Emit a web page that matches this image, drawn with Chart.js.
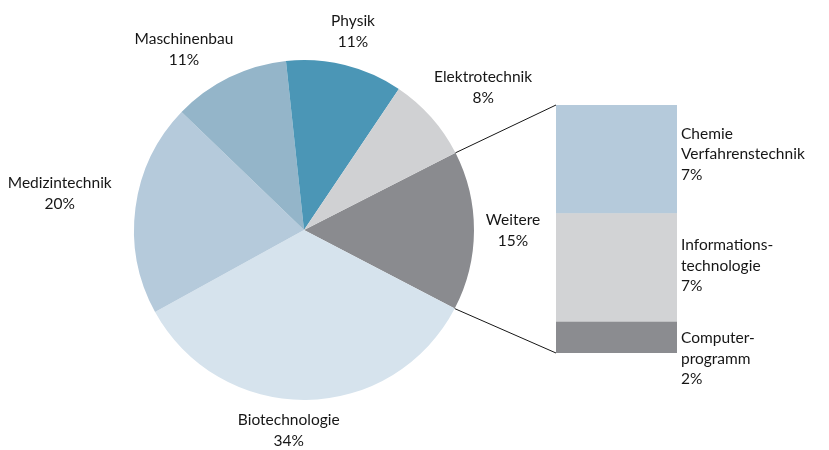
<!DOCTYPE html>
<html>
<head>
<meta charset="utf-8">
<script src="https://cdn.jsdelivr.net/npm/chart.js@4.4.0/dist/chart.umd.min.js"></script>
<style>
  body { margin: 0; background: #fff; }
  .wrap { position: relative; width: 829px; height: 450px; }
  .wrap canvas { position: absolute; left: 0; top: 0; }
</style>
</head>
<body>
<div class="wrap">
  <canvas id="pie" width="829" height="450"></canvas>
  <canvas id="bar" width="829" height="450"></canvas>
</div>
<script>
// Fachgebiete (Kreis)
const fields = ['Weitere', 'Biotechnologie', 'Medizintechnik', 'Maschinenbau', 'Physik', 'Elektrotechnik'];
const fieldShares = [15, 34, 20, 11, 11, 8];
const fieldColors = ['#8a8b8f', '#d6e3ed', '#b5cadb', '#94b5c9', '#4b96b6', '#d0d1d3'];

// Aufteilung von "Weitere" (Balken, von unten nach oben)
const otherFields = [['Computer-', 'programm'], ['Informations-', 'technologie'], ['Chemie', 'Verfahrenstechnik']];
const otherShares = [2, 7, 7];
const otherColors = ['#8b8c90', '#d2d3d5', '#b5cadb'];

const FONT = '15.5px Lato, "Open Sans", sans-serif';
const INK = '#161616';

function drawLines(ctx, lines, x, y, align, lh) {
  ctx.save();
  ctx.font = FONT;
  ctx.fillStyle = INK;
  ctx.textAlign = align;
  ctx.textBaseline = 'middle';
  const top = y - (lines.length - 1) * lh / 2;
  lines.forEach((t, i) => ctx.fillText(t, x, top + i * lh));
  ctx.restore();
}

// label position per slice: angle shift (deg) from the slice middle, distance from centre
const pieLabelPos = [[0, 209], [5, 201], [1, 247], [-7.5, 217], [0, 204], [3, 229]];

const pieLabels = {
  id: 'pieLabels',
  afterDatasetsDraw(chart) {
    const ctx = chart.ctx;
    chart.getDatasetMeta(0).data.forEach((arc, i) => {
      const mid = (arc.startAngle + arc.endAngle) / 2 + pieLabelPos[i][0] * Math.PI / 180;
      const d = pieLabelPos[i][1];
      const x = arc.x + Math.cos(mid) * d;
      const y = arc.y + Math.sin(mid) * d;
      drawLines(ctx, [fields[i], fieldShares[i] + '%'], x, y, 'center', 21);
    });
  }
};

const pieChart = new Chart(document.getElementById('pie'), {
  type: 'pie',
  data: {
    labels: fields,
    datasets: [{ data: fieldShares, backgroundColor: fieldColors, borderWidth: 0 }]
  },
  options: {
    responsive: false,
    devicePixelRatio: 1,
    animation: false,
    rotation: 63,
    layout: { padding: { left: 134, right: 355, top: 60, bottom: 50 } },
    plugins: { legend: { display: false }, tooltip: { enabled: false } }
  },
  plugins: [pieLabels]
});

// vertical nudge of the bar labels relative to the segment middle
const barLabelShift = [21, -2, -5];

const barExtras = {
  id: 'barExtras',
  afterDatasetsDraw(chart) {
    const ctx = chart.ctx;
    // connector lines from the "Weitere" slice to the bar
    const arc = pieChart.getDatasetMeta(0).data[0];
    const area = chart.chartArea;
    const r = arc.outerRadius;
    ctx.save();
    ctx.strokeStyle = INK;
    ctx.lineWidth = 1;
    ctx.beginPath();
    ctx.moveTo(arc.x + Math.cos(arc.startAngle) * r, arc.y + Math.sin(arc.startAngle) * r);
    ctx.lineTo(area.left, area.top);
    ctx.moveTo(arc.x + Math.cos(arc.endAngle) * r, arc.y + Math.sin(arc.endAngle) * r);
    ctx.lineTo(area.left, area.bottom);
    ctx.stroke();
    ctx.restore();

    chart.data.datasets.forEach((ds, i) => {
      const bar = chart.getDatasetMeta(i).data[0];
      const midY = (bar.y + bar.base) / 2 + barLabelShift[i];
      drawLines(ctx, [...otherFields[i], otherShares[i] + '%'], bar.x + bar.width / 2 + 4, midY, 'left', 20.5);
    });
  }
};

new Chart(document.getElementById('bar'), {
  type: 'bar',
  data: {
    labels: ['Weitere'],
    datasets: otherShares.map((v, i) => ({
      label: otherFields[i].join(''),
      data: [v],
      backgroundColor: otherColors[i],
      borderWidth: 0,
      barPercentage: 1,
      categoryPercentage: 1
    }))
  },
  options: {
    responsive: false,
    devicePixelRatio: 1,
    animation: false,
    layout: { padding: { left: 556, right: 152, top: 105, bottom: 97 } },
    scales: {
      x: { stacked: true, display: false },
      y: { stacked: true, display: false, min: 0, max: 16 }
    },
    plugins: { legend: { display: false }, tooltip: { enabled: false } }
  },
  plugins: [barExtras]
});
</script>
</body>
</html>
